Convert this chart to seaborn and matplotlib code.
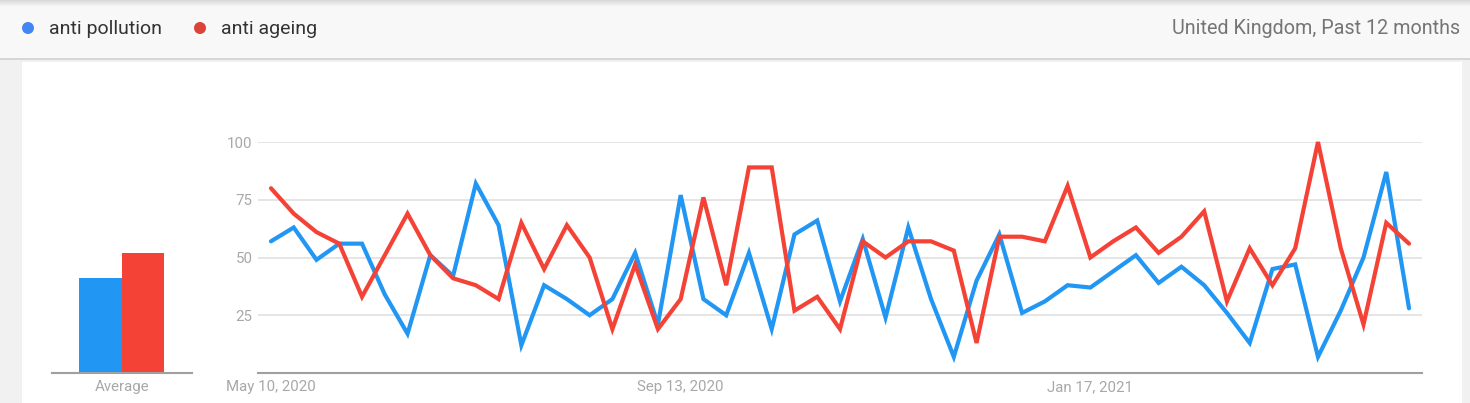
import matplotlib.pyplot as plt
from matplotlib.patches import Rectangle, Ellipse
import pandas as pd
import seaborn as sns

terms = ['anti pollution', 'anti ageing']
line_colors = ['#2196f3', '#f44336']
dot_colors = ['#4285f4', '#db4437']

# weekly interest, May 10, 2020 onwards
anti_pollution = [57, 63, 49, 56, 56, 34, 17, 51, 42, 82, 64, 12, 38, 32, 25, 32, 52,
                  21, 77, 32, 25, 52, 19, 60, 66, 31, 58, 24, 63, 32, 7, 40, 60, 26,
                  31, 38, 37, 44, 51, 39, 46, 38, 26, 13, 45, 47, 7, 27, 50, 87, 28]
anti_ageing = [80, 69, 61, 56, 33, 51, 69, 51, 41, 38, 32, 65, 45, 64, 50, 19, 47,
               19, 32, 76, 38, 89, 89, 27, 33, 19, 57, 50, 57, 57, 53, 13, 59, 59,
               57, 81, 50, 57, 63, 52, 59, 70, 31, 54, 38, 54, 100, 54, 21, 65, 56]
averages = [41, 52]
tick_dates = ['2020-05-10', '2020-09-13', '2021-01-17']
tick_labels = ['May 10, 2020', 'Sep 13, 2020', 'Jan 17, 2021']

weeks = pd.date_range('2020-05-10', periods=len(anti_pollution), freq='W-SUN')
df = pd.DataFrame({
    'week': list(weeks) * 2,
    'term': [terms[0]] * len(weeks) + [terms[1]] * len(weeks),
    'value': anti_pollution + anti_ageing,
})

sns.set_style('white')
plt.rcParams['font.family'] = ['Roboto', 'DejaVu Sans']

W, H = 1470, 403
fig = plt.figure(figsize=(W / 100, H / 100), dpi=100)
fig.patch.set_facecolor('#f1f1f1')

# white card and header band
fig.add_artist(Rectangle((22 / W, 0), 1440 / W, (H - 62) / H, transform=fig.transFigure,
                         facecolor='white', edgecolor='none', zorder=0))
fig.add_artist(Rectangle((0, (H - 58) / H), 1, 58 / H, transform=fig.transFigure,
                         facecolor='#f8f8f8', edgecolor='none', zorder=0))
fig.add_artist(Rectangle((0, (H - 60) / H), 1, 2 / H, transform=fig.transFigure,
                         facecolor='#d6d6d6', edgecolor='none', zorder=0))
for k in range(6):
    fig.add_artist(Rectangle((0, (H - k - 1) / H), 1, 1 / H, transform=fig.transFigure,
                             facecolor='#bdbdbd', alpha=0.5 - k * 0.08, edgecolor='none', zorder=1))

# legend
for x, term, c in [(28, terms[0], dot_colors[0]), (200, terms[1], dot_colors[1])]:
    fig.add_artist(Ellipse((x / W, (H - 28) / H), 12 / W, 12 / H, transform=fig.transFigure,
                           facecolor=c, edgecolor='none', zorder=2))
    fig.text((x + 21) / W, (H - 29) / H, term, ha='left', va='center', fontsize=14,
             color='#333333')
fig.text(1460 / W, (H - 29) / H, 'United Kingdom, Past 12 months', ha='right', va='center',
         fontsize=14.2, color='#757575')

# main line chart
ax = fig.add_axes([258 / W, (H - 373) / H, 1164 / W, 231 / H])
ax.set_facecolor('none')
sns.lineplot(data=df, x='week', y='value', hue='term', hue_order=terms,
             palette=line_colors, linewidth=3.0, legend=False, ax=ax,
             solid_joinstyle='miter')
for line in ax.lines:
    line.set_clip_on(False)
step = pd.Timedelta(weeks=1)
ax.set_xlim(weeks[0] - 0.57 * step, weeks[-1] + 0.57 * step)
ax.set_ylim(0, 100)
ax.set_yticks([25, 50, 75, 100])
ax.set_yticklabels(['25', '50', '75', '100'])
ax.set_xticks(pd.to_datetime(tick_dates))
ax.set_xticklabels(tick_labels)
ax.grid(axis='y', color='#e3e3e3', linewidth=1.3)
ax.set_axisbelow(True)
ax.tick_params(length=0, labelsize=10.8, colors='#a8a8a8', pad=5)
ax.tick_params(axis='y', pad=4)
ax.set_xlabel('')
ax.set_ylabel('')
for s in ['top', 'right', 'left']:
    ax.spines[s].set_visible(False)
ax.spines['bottom'].set_color('#a0a0a0')
ax.spines['bottom'].set_linewidth(1.5)

# average bars
ax2 = fig.add_axes([52 / W, (H - 373) / H, 140 / W, 231 / H])
ax2.set_facecolor('none')
sns.barplot(x=terms, y=averages, hue=terms, palette=line_colors, width=1.0,
            legend=False, ax=ax2, saturation=1, linewidth=0)
ax2.set_xlim(-1.14, 2.15)
ax2.set_ylim(0, 100)
ax2.set_xticks([0.5])
ax2.set_xticklabels(['Average'])
ax2.set_yticks([])
ax2.tick_params(length=0, labelsize=10.8, colors='#a8a8a8', pad=5)
for s in ['top', 'right', 'left']:
    ax2.spines[s].set_visible(False)
ax2.spines['bottom'].set_color('#a0a0a0')
ax2.spines['bottom'].set_linewidth(1.5)

fig.savefig('out.png', dpi=100, facecolor=fig.get_facecolor())
